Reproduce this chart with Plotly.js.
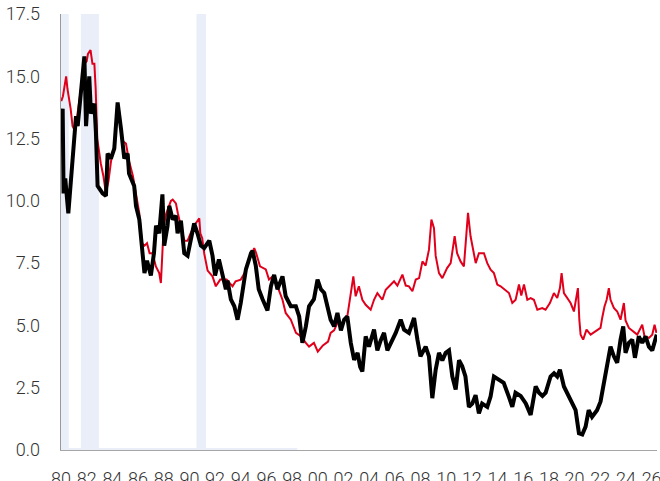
<!DOCTYPE html>
<html>
<head>
<meta charset="utf-8">
<script src="https://cdn.plot.ly/plotly-3.0.1.min.js"></script>
<style>
html,body{margin:0;padding:0;overflow:hidden;background:#fff;}
#chart{width:660px;height:481px;}
</style>
</head>
<body>
<div id="chart"></div>
<script>
// ---- data (decimal years, percent) ----
const blackX = [1980.02,1980.13,1980.2,1980.33,1980.57,1980.78,1981.04,1981.17,1981.3,1981.56,1981.82,1981.95,1982.2,1982.33,1982.6,1982.72,1982.85,1983.24,1983.5,1983.63,1983.89,1984.15,1984.41,1984.67,1984.93,1985.19,1985.3,1985.7,1985.84,1986.1,1986.3,1986.5,1986.7,1987.0,1987.24,1987.4,1987.65,1987.9,1988.04,1988.3,1988.43,1988.7,1988.95,1989.08,1989.34,1989.6,1989.86,1990.1,1990.37,1990.63,1990.9,1991.15,1991.55,1991.8,1992.0,1992.3,1992.58,1992.84,1992.97,1993.23,1993.5,1993.75,1994.0,1994.4,1994.8,1994.92,1995.17,1995.4,1995.7,1996.08,1996.35,1996.6,1996.86,1997.25,1997.5,1997.9,1998.29,1998.55,1998.8,1999.07,1999.32,1999.7,1999.98,2000.24,2000.5,2000.75,2001.0,2001.27,2001.53,2001.8,2002.05,2002.3,2002.57,2002.83,2003.1,2003.3,2003.47,2003.73,2003.99,2004.38,2004.64,2004.9,2005.16,2005.42,2005.81,2006.07,2006.46,2006.72,2007.1,2007.5,2007.76,2008.0,2008.4,2008.66,2008.92,2009.18,2009.44,2009.7,2009.96,2010.22,2010.48,2010.74,2011.0,2011.25,2011.5,2011.77,2012.03,2012.29,2012.55,2012.8,2013.2,2013.46,2013.72,2014.1,2014.48,2014.87,2015.15,2015.4,2015.8,2016.2,2016.58,2016.97,2017.23,2017.5,2017.75,2018.13,2018.4,2018.65,2018.86,2019.17,2019.56,2019.82,2020.08,2020.34,2020.6,2020.86,2021.1,2021.36,2021.75,2022.02,2022.28,2022.54,2022.8,2023.06,2023.32,2023.58,2023.79,2023.97,2024.23,2024.49,2024.7,2025.0,2025.27,2025.53,2025.79,2026.05,2026.3,2026.4];
const blackY = [12.8,13.7,10.3,10.9,9.5,10.9,12.2,13.4,13.0,14.6,15.8,13.0,15.0,13.5,13.9,12.75,10.6,10.3,10.2,11.9,11.7,12.1,13.95,12.9,11.7,11.9,11.1,10.6,9.8,9.25,8.2,7.1,7.6,7.0,7.9,9.0,8.7,10.26,8.2,9.0,9.8,9.25,9.4,8.7,9.2,7.9,7.8,8.4,9.1,8.7,8.2,8.1,8.4,7.8,7.0,7.65,7.1,6.45,6.8,6.05,5.77,5.23,5.9,7.25,7.9,8.0,7.4,6.45,6.05,5.6,6.57,7.03,6.45,6.97,6.17,5.77,5.77,5.36,4.3,4.96,5.77,6.05,6.84,6.45,6.3,5.77,5.23,4.96,5.5,4.8,5.23,5.36,4.3,3.62,3.9,3.34,3.15,4.56,4.15,4.83,4.0,4.4,4.7,4.0,4.4,4.7,5.23,4.83,4.7,5.3,4.43,3.76,4.15,3.76,2.08,3.22,3.9,3.6,3.9,4.0,2.95,2.43,3.6,3.36,2.95,1.73,1.86,2.2,1.47,1.86,1.73,2.15,2.95,2.8,2.7,2.15,1.73,2.3,2.17,1.87,1.41,2.55,2.3,2.17,2.3,2.95,3.08,2.95,3.22,2.55,2.17,1.87,1.6,0.67,0.62,0.94,1.6,1.33,1.6,1.94,2.7,3.5,4.15,3.76,3.5,4.43,4.96,3.9,4.3,4.43,3.7,4.56,4.3,4.56,4.15,4.0,4.56,4.63];

const redX = [1980.02,1980.15,1980.4,1980.5,1980.75,1980.9,1981.1,1981.35,1981.6,1981.82,1982.0,1982.1,1982.3,1982.45,1982.6,1982.7,1982.82,1983.1,1983.3,1983.5,1983.7,1983.9,1984.15,1984.41,1984.6,1984.8,1985.06,1985.3,1985.6,1985.85,1986.1,1986.3,1986.5,1986.7,1986.9,1987.13,1987.39,1987.65,1987.78,1988.0,1988.2,1988.56,1988.7,1988.95,1989.1,1989.6,1989.86,1990.1,1990.37,1990.77,1990.85,1991.0,1991.15,1991.42,1991.8,1992.06,1992.4,1992.9,1993.36,1993.6,1994.0,1994.3,1994.65,1995.05,1995.2,1995.5,1995.95,1996.2,1996.5,1996.86,1997.25,1997.5,1997.9,1998.3,1998.7,1999.07,1999.32,1999.7,2000.0,2000.4,2000.8,2001.0,2001.27,2001.53,2001.9,2002.3,2002.57,2002.77,2002.95,2003.2,2003.47,2003.73,2004.12,2004.38,2004.64,2005.03,2005.29,2005.55,2005.94,2006.2,2006.59,2006.85,2007.1,2007.37,2007.63,2007.89,2008.15,2008.4,2008.66,2008.85,2009.05,2009.18,2009.44,2009.7,2010.07,2010.35,2010.48,2010.66,2010.85,2011.12,2011.38,2011.5,2011.7,2011.9,2012.16,2012.3,2012.55,2012.94,2013.2,2013.46,2013.72,2013.98,2014.24,2014.63,2014.89,2015.15,2015.41,2015.67,2015.85,2016.06,2016.32,2016.58,2016.83,2017.1,2017.48,2017.74,2018.08,2018.39,2018.65,2018.86,2018.99,2019.17,2019.43,2019.69,2019.95,2020.26,2020.37,2020.47,2020.67,2020.93,2021.25,2021.64,2022.02,2022.15,2022.33,2022.5,2022.67,2022.8,2023.06,2023.32,2023.58,2023.84,2023.97,2024.23,2024.62,2024.88,2025.27,2025.45,2025.79,2026.05,2026.23,2026.38];
const redY = [14.0,14.2,15.0,14.5,13.7,13.0,12.8,13.8,14.8,15.5,15.6,15.9,16.05,15.5,15.5,14.5,12.5,11.5,11.0,10.3,10.8,11.6,12.2,13.7,13.2,12.4,12.3,11.6,11.0,10.2,9.5,8.3,8.2,8.3,7.9,7.9,7.37,7.1,6.7,9.0,9.5,10.0,10.05,9.9,9.5,8.4,8.4,8.7,9.0,9.3,8.7,8.5,7.9,7.2,6.97,6.57,6.84,6.84,6.57,6.77,6.84,7.1,7.65,8.1,7.9,7.37,7.25,6.84,6.97,6.57,6.03,5.5,5.23,4.7,4.56,4.3,4.15,4.3,3.95,4.2,4.35,4.7,4.8,5.1,5.1,5.36,6.3,6.97,6.17,6.57,6.03,5.83,5.63,6.03,6.3,6.03,6.43,6.57,6.77,6.6,7.04,6.6,6.57,6.37,6.84,6.9,7.57,7.4,8.04,9.25,8.9,7.8,7.1,6.9,7.3,7.5,8.04,8.58,7.9,7.57,7.37,8.3,9.52,8.58,7.9,7.5,7.9,7.9,7.5,7.24,7.1,6.64,6.57,6.43,6.3,5.9,6.03,6.64,6.2,6.64,6.03,6.1,6.03,5.63,5.7,5.63,5.9,6.3,6.1,6.5,7.1,6.3,6.1,5.9,5.56,6.5,5.23,4.63,4.43,4.83,4.63,4.76,4.9,5.3,5.76,6.03,6.5,6.03,5.7,5.56,5.23,5.9,5.2,4.9,4.76,4.63,5.03,4.56,4.5,4.63,5.03,4.7];

// shaded recession periods
const recStart = [1980.0, 1981.55, 1990.55];
const recEnd   = [1980.6, 1982.95, 1991.3];
const recessionSeriesEnd = 1998.4;

const xTickVals = [1980,1982,1984,1986,1988,1990,1992,1994,1996,1998,2000,2002,2004,2006,2008,2010,2012,2014,2016,2018,2020,2022,2024,2026];
const xTickText = ['80','82','84','86','88','90','92','94','96','98','00','02','04','06','08','10','12','14','16','18','20','22','24','26'];
const yTickVals = [0,2.5,5,7.5,10,12.5,15,17.5];
const yTickText = ['0.0','2.5','5.0','7.5','10.0','12.5','15.0','17.5'];

const bandColor = 'rgb(233,238,248)';
const shapes = recStart.map((s,i)=>({
  type:'rect', xref:'x', yref:'paper', x0:s, x1:recEnd[i], y0:0, y1:1,
  fillcolor:bandColor, line:{width:0}, layer:'below'
}));

const traces = [
  {x:[recEnd[0], recessionSeriesEnd], y:[0,0], mode:'lines', line:{color:bandColor, width:4}, hoverinfo:'skip', cliponaxis:false},
  {x:redX, y:redY, mode:'lines', line:{color:'#e0001b', width:2}, name:'red'},
  {x:blackX, y:blackY, mode:'lines', line:{color:'#000000', width:4}, name:'black'}
];

const tickFont = {family:'Roboto, "Open Sans", sans-serif', size:18, color:'#333333', weight:300};

const layout = {
  width:660, height:481,
  margin:{l:61, r:3, t:14, b:31, pad:0},
  paper_bgcolor:'#ffffff', plot_bgcolor:'rgba(0,0,0,0)',
  showlegend:false,
  shapes:shapes,
  xaxis:{
    range:[1980.0, 2026.42], tickmode:'array', tickvals:xTickVals, ticktext:xTickText,
    showgrid:false, zeroline:false, showline:true, linecolor:'#a6a6a6', linewidth:1.3,
    ticks:'', tickfont:tickFont, ticklabelstandoff:12, ticklabeloverflow:'allow'
  },
  yaxis:{
    range:[0,17.5], tickmode:'array', tickvals:yTickVals, ticktext:yTickText,
    showgrid:false, zeroline:false, showline:true, linecolor:'#999999', linewidth:1.3,
    ticks:'', tickfont:tickFont, ticklabelstandoff:16
  }
};

Plotly.newPlot('chart', traces, layout, {displayModeBar:false, staticPlot:true});
</script>
</body>
</html>
